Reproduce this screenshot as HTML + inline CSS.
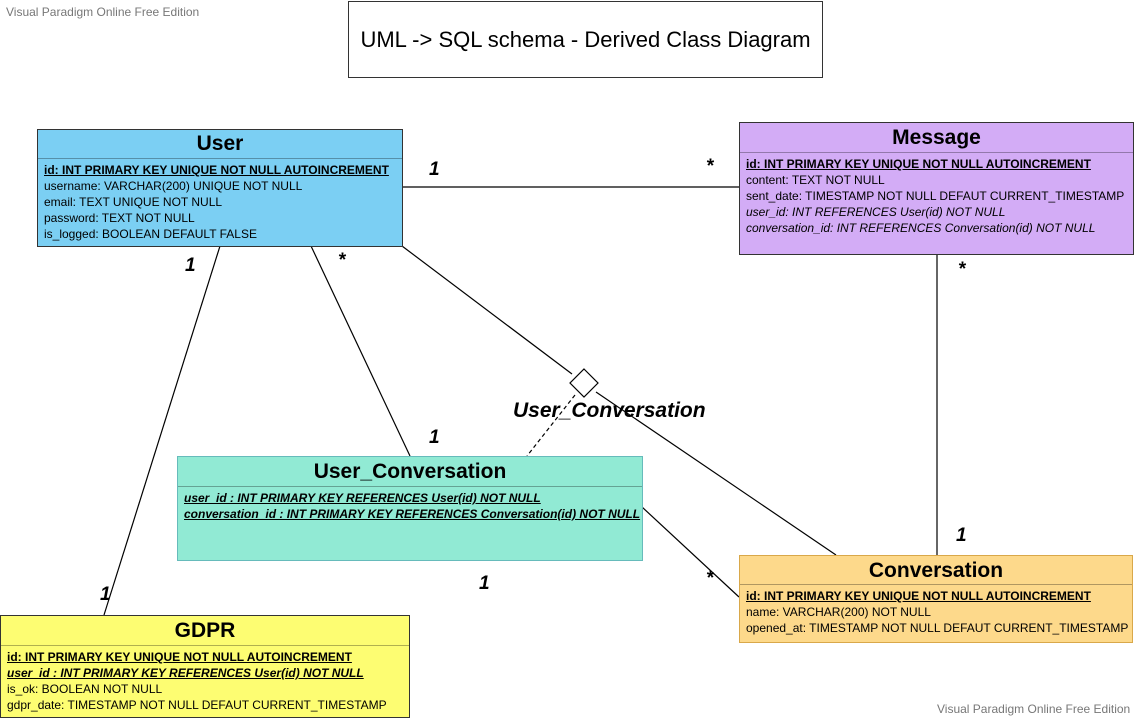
<!DOCTYPE html>
<html><head><style>
body{margin:0;width:1135px;height:718px;background:#fff;position:relative;font-family:"Liberation Sans",sans-serif;overflow:hidden}
.b{position:absolute;border:1px solid #333;box-sizing:border-box}
.h{font-weight:bold;font-size:21px;text-align:center;border-bottom:1px solid rgba(0,0,0,.3);box-sizing:border-box}
.r{font-size:12px;line-height:16px;padding:3px 0 0 6px;white-space:nowrap}
.u{font-weight:bold;text-decoration:underline}
.i{font-style:italic}
.l{position:absolute;font-style:italic;font-weight:bold;font-size:19px}
.w{position:absolute;font-size:12px;color:#777}
</style></head><body>
<div class="w" style="left:6px;top:5px">Visual Paradigm Online Free Edition</div>
<div class="w" style="left:937px;top:702px">Visual Paradigm Online Free Edition</div>
<div class="b" style="left:348px;top:1px;width:475px;height:77px;font-size:22px;display:flex;align-items:center;justify-content:center">UML -&gt; SQL schema - Derived Class Diagram</div>
<svg style="position:absolute;left:0;top:0" width="1135" height="718">
<g stroke="#000" stroke-width="1.2" fill="none">
<line x1="402" y1="187" x2="739" y2="187"/>
<line x1="220" y1="246" x2="104" y2="615"/>
<line x1="311" y1="246" x2="410" y2="456"/>
<line x1="402" y1="246" x2="572" y2="374"/>
<line x1="596" y1="392" x2="836" y2="555"/>
<line x1="575" y1="395" x2="527" y2="456" stroke-dasharray="4,3"/>
<line x1="642" y1="507" x2="739" y2="597"/>
<line x1="937" y1="254" x2="937" y2="555"/>
<polygon points="584,369 598,383 584,397 570,383" fill="#fff"/>
</g></svg>
<div class="b" style="left:37px;top:129px;width:366px;height:118px;background:#7bcff3">
<div class="h" style="height:29px;line-height:28px">User</div>
<div class="r"><div class="u">id: INT PRIMARY KEY UNIQUE NOT NULL AUTOINCREMENT</div>username: VARCHAR(200) UNIQUE NOT NULL<br>email: TEXT UNIQUE NOT NULL<br>password: TEXT NOT NULL<br>is_logged: BOOLEAN DEFAULT FALSE</div></div>
<div class="b" style="left:739px;top:122px;width:395px;height:133px;background:#d3acf6">
<div class="h" style="height:30px;line-height:29px">Message</div>
<div class="r"><div class="u">id: INT PRIMARY KEY UNIQUE NOT NULL AUTOINCREMENT</div>content: TEXT NOT NULL<br>sent_date: TIMESTAMP NOT NULL DEFAUT CURRENT_TIMESTAMP<br><span class="i">user_id: INT REFERENCES User(id) NOT NULL</span><br><span class="i">conversation_id: INT REFERENCES Conversation(id) NOT NULL</span></div></div>
<div class="b" style="left:177px;top:456px;width:466px;height:105px;background:#91ead4;border-color:#6bb">
<div class="h" style="height:30px;line-height:29px">User_Conversation</div>
<div class="r u i">user_id :  INT PRIMARY KEY REFERENCES User(id) NOT NULL<br>conversation_id : INT PRIMARY KEY REFERENCES Conversation(id) NOT NULL</div></div>
<div class="b" style="left:739px;top:555px;width:394px;height:88px;background:#fdd98b;border-color:#d9a84a">
<div class="h" style="height:29px;line-height:29px">Conversation</div>
<div class="r"><div class="u">id: INT PRIMARY KEY UNIQUE NOT NULL AUTOINCREMENT</div>name: VARCHAR(200) NOT NULL<br>opened_at: TIMESTAMP NOT NULL DEFAUT CURRENT_TIMESTAMP</div></div>
<div class="b" style="left:0px;top:615px;width:410px;height:103px;background:#fdfd72">
<div class="h" style="height:30px;line-height:30px">GDPR</div>
<div class="r"><div class="u">id: INT PRIMARY KEY UNIQUE NOT NULL AUTOINCREMENT</div><div class="u i">user_id :  INT PRIMARY KEY REFERENCES User(id) NOT NULL</div>is_ok: BOOLEAN NOT NULL<br>gdpr_date: TIMESTAMP NOT NULL DEFAUT CURRENT_TIMESTAMP</div></div>
<div class="l" style="left:429px;top:159px">1</div>
<div class="l" style="left:706px;top:156px">*</div>
<div class="l" style="left:185px;top:255px">1</div>
<div class="l" style="left:338px;top:250px">*</div>
<div class="l" style="left:429px;top:427px">1</div>
<div class="l" style="left:958px;top:259px">*</div>
<div class="l" style="left:956px;top:525px">1</div>
<div class="l" style="left:479px;top:573px">1</div>
<div class="l" style="left:706px;top:568px">*</div>
<div class="l" style="left:100px;top:584px">1</div>
<div class="l" style="left:513px;top:399px;font-size:21px">User_Conversation</div>
</body></html>
